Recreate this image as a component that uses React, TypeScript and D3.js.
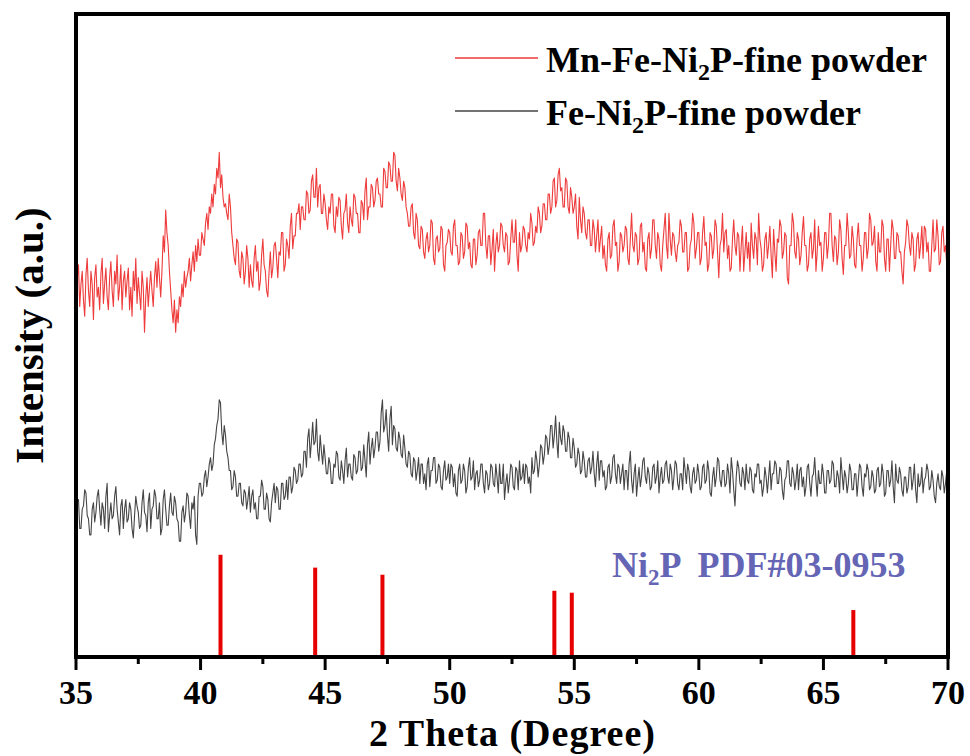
import React from "react";
import * as d3 from "d3";

// 2-theta grid: 35.00 .. 70.00 step 0.05
const thetaStart = 35;
const thetaStep = 0.05;

const mnFeNi2P = [
  560,590,610,545,580,600,555,530,595,620,570,545,600,580,525,590,610,560,575,540,
  595,620,550,580,605,560,540,590,615,570,545,600,580,625,555,575,610,540,585,600,
  560,585,605,540,575,530,600,570,620,550,590,565,540,600,575,505,560,590,545,575,
  600,570,545,590,615,575,620,590,560,600,655,630,695,660,640,600,570,540,520,555,
  505,540,520,560,545,580,560,600,575,590,600,620,585,610,630,600,640,615,650,625,
  625,660,650,640,675,690,665,700,690,720,700,735,720,760,745,785,730,750,715,700,
  705,690,680,720,700,660,640,620,610,650,645,600,590,630,620,580,600,640,620,575,
  610,585,575,620,640,600,615,570,585,625,650,610,600,570,560,600,630,590,605,640,
  645,620,590,630,625,660,660,600,610,650,640,620,670,690,635,655,655,690,690,705,
  665,700,700,680,680,725,720,690,695,740,750,715,715,760,700,730,735,690,690,720,
  705,680,665,700,690,720,720,670,660,700,685,715,710,670,650,690,695,720,675,660,
  700,680,670,720,715,690,690,660,660,710,705,680,725,745,680,700,700,735,730,700,
  710,740,745,720,720,700,700,760,755,730,730,770,765,740,740,785,780,740,725,760,
  745,720,710,740,730,700,690,670,670,700,705,660,650,690,680,640,635,670,665,630,
  620,650,660,630,640,680,675,620,610,650,655,630,635,670,665,610,600,640,645,665,
  660,630,625,670,680,640,640,610,615,660,655,620,630,675,670,635,645,610,605,650,
  650,610,625,660,665,640,640,690,690,640,620,655,655,610,635,665,600,640,660,630,
  640,675,670,640,630,660,655,610,615,650,680,645,645,680,625,600,660,630,640,670,
  665,640,630,660,650,690,675,640,645,670,660,700,690,660,670,705,705,680,680,720,
  720,690,700,740,745,700,710,750,760,725,730,700,700,745,740,700,690,730,715,690,
  700,720,670,650,715,680,660,700,690,660,650,680,680,640,640,680,665,630,655,680,
  630,650,670,620,640,610,600,650,660,620,625,670,680,640,645,600,615,660,655,630,
  640,670,665,620,610,650,690,640,630,660,655,610,620,670,675,630,645,605,600,650,
  660,620,635,680,680,640,620,660,650,610,600,640,665,690,640,620,690,650,625,660,
  655,630,615,640,645,680,670,630,630,660,660,600,605,640,650,690,675,620,635,660,
  660,610,620,660,685,640,645,600,610,660,655,620,635,680,670,630,590,640,650,690,
  630,660,665,620,640,600,605,650,680,640,625,660,655,600,640,670,600,630,660,620,
  645,600,675,640,620,660,650,610,690,650,635,600,610,650,660,620,640,670,625,590,
  665,630,600,650,645,680,670,620,630,660,655,590,580,640,640,690,675,630,620,660,
  650,610,625,660,685,640,640,600,610,650,660,620,635,680,600,630,670,640,645,600,
  620,660,660,620,640,690,690,640,615,655,650,610,630,680,665,620,595,640,640,690,
  660,620,625,670,650,610,605,650,675,640,640,600,620,660,660,620,635,690,680,640,
  645,670,615,600,660,630,630,680,670,620,600,650,650,600,640,680,665,620,620,660,
  655,630,630,600,580,630,645,680,670,640,625,660,650,600,610,650,660,620,640,670,
  620,670,665,630,645,600,600,640,680,630,635,680,655,610,615,660,670,630,640,610,
  630,
];

const feNi2P = [
  210,240,245,200,200,230,235,260,255,220,215,190,190,230,240,210,225,250,260,230,
  205,240,230,200,250,270,195,220,240,215,220,250,265,230,210,190,235,245,200,230,
  245,210,215,240,230,200,185,220,250,235,225,200,205,240,260,225,220,195,240,255,
  200,230,235,260,250,215,215,240,190,200,245,260,230,205,205,235,255,225,220,250,
  240,215,210,180,180,225,235,210,225,255,250,220,200,240,230,250,190,175,250,270,
  270,250,255,280,290,265,280,300,310,290,300,330,340,360,370,400,395,350,330,360,
  345,320,310,290,290,260,265,290,280,250,250,270,270,240,235,260,255,230,245,265,
  225,250,260,230,240,215,215,250,250,275,265,230,230,255,245,215,210,240,255,270,
  240,265,260,230,230,270,270,245,250,275,245,280,280,255,265,295,290,270,275,300,
  300,280,285,320,320,295,340,355,310,335,365,330,335,370,320,305,345,320,300,330,
  310,285,285,310,300,270,270,300,295,320,315,280,275,305,290,270,305,325,280,300,
  300,280,275,315,310,285,290,320,320,290,295,330,305,280,330,350,300,325,340,310,
  325,350,350,320,335,380,400,350,360,385,345,320,370,390,330,360,355,325,320,350,
  340,315,310,345,325,300,295,320,315,285,280,310,305,275,290,310,270,300,300,270,
  285,260,300,310,265,290,290,310,310,270,275,300,295,265,260,290,305,275,280,300,
  270,300,295,265,285,255,250,290,300,270,275,300,290,255,265,295,310,275,280,305,
  260,285,290,265,275,300,300,270,255,290,285,260,270,300,295,270,265,300,280,255,
  300,270,270,300,245,270,285,255,275,300,295,265,260,295,290,260,305,275,280,300,
  270,300,295,270,280,255,310,285,290,320,305,280,300,330,325,300,315,345,340,315,
  330,360,360,325,345,375,335,310,365,340,330,360,350,320,320,350,340,310,310,340,
  325,295,300,325,315,285,290,320,305,280,280,305,310,285,295,320,285,265,300,320,
  275,305,305,280,290,260,265,295,300,270,280,310,315,285,270,300,295,270,285,300,
  260,290,290,260,300,320,275,255,285,300,250,275,295,265,280,305,310,280,270,295,
  285,260,265,295,300,270,280,305,255,280,295,270,275,300,305,280,270,300,290,260,
  280,305,300,270,260,285,285,260,310,290,270,300,290,265,255,285,295,270,275,300,
  285,260,265,295,300,270,275,305,290,255,250,280,295,265,280,310,305,275,265,290,
  290,265,270,300,285,255,310,290,260,235,280,305,295,270,265,295,285,260,300,275,
  270,295,290,260,255,285,280,300,300,270,275,250,265,295,280,255,280,305,260,285,
  285,305,300,270,270,295,290,260,245,275,280,305,305,270,265,295,285,260,275,300,
  260,290,295,265,280,250,265,295,300,270,250,280,285,310,275,250,290,270,270,300,
  285,255,255,290,290,270,275,305,300,265,265,290,280,255,310,285,260,290,280,255,
  270,300,290,260,260,285,285,250,275,300,295,265,250,285,280,300,290,260,265,290,
  280,255,260,290,295,265,270,300,285,250,255,290,290,265,275,305,265,240,300,275,
  270,295,285,260,250,280,280,255,265,295,295,260,275,300,260,240,285,265,270,295,
  255,275,280,300,290,260,265,290,275,250,240,270,285,265,260,290,280,255,270,290,
  270,
];

// Ni2P PDF#03-0953 reference peaks
const refPositions = [40.8, 44.6, 47.3, 54.2, 54.9, 66.2];
const refIntensities = [159, 139, 128, 103, 100, 73];

const xMajorTicks = [35, 40, 45, 50, 55, 60, 65, 70];
const xMinorTicks = [37.5, 42.5, 47.5, 52.5, 57.5, 62.5, 67.5];

const W = 970;
const H = 756;
const M = { left: 76, right: 948, top: 14, bottom: 657 };
const FONT = "'Liberation Serif', 'Times New Roman', serif";

export default function App() {
  const x = d3.scaleLinear().domain([35, 70]).range([M.left, M.right]);
  const y = d3.scaleLinear().domain([0, 1000]).range([M.bottom, M.top]);

  const toPts = (arr: number[]) =>
    arr.map((v, i) => [thetaStart + i * thetaStep, v] as [number, number]);

  const line = d3
    .line<[number, number]>()
    .x((d) => x(d[0]))
    .y((d) => y(d[1]));

  const redColor = "#EE3B3B";
  const greyColor = "#454545";

  return (
    <svg
      width={W}
      height={H}
      style={{ position: "absolute", left: 0, top: 0, background: "#fff" }}
      fontFamily={FONT}
    >
      <rect x={0} y={0} width={W} height={H} fill="#fff" />
      {/* series */}
      <path d={line(toPts(mnFeNi2P)) || ""} fill="none" stroke={redColor} strokeWidth={1.1} strokeLinejoin="round" />
      <path d={line(toPts(feNi2P)) || ""} fill="none" stroke={greyColor} strokeWidth={1.1} strokeLinejoin="round" />

      {/* reference sticks */}
      {refPositions.map((p, i) => (
        <line
          key={p}
          x1={x(p)}
          x2={x(p)}
          y1={y(0)}
          y2={y(refIntensities[i])}
          stroke="#E60000"
          strokeWidth={4}
        />
      ))}

      {/* frame */}
      <rect
        x={M.left}
        y={M.top}
        width={M.right - M.left}
        height={M.bottom - M.top}
        fill="none"
        stroke="#000"
        strokeWidth={4}
      />

      {/* ticks */}
      {xMajorTicks.map((t) => (
        <g key={t}>
          <line x1={x(t)} x2={x(t)} y1={M.bottom} y2={M.bottom + 13} stroke="#000" strokeWidth={3} />
          <text x={x(t)} y={704} textAnchor="middle" fontSize={34} fontWeight="bold">
            {t}
          </text>
        </g>
      ))}
      {xMinorTicks.map((t) => (
        <line key={t} x1={x(t)} x2={x(t)} y1={M.bottom} y2={M.bottom + 7} stroke="#000" strokeWidth={3} />
      ))}

      {/* axis titles */}
      <text
        x={(M.left + M.right) / 2}
        y={746}
        textAnchor="middle"
        fontSize={38}
        fontWeight="bold"
        textLength={286}
        lengthAdjust="spacing"
      >
        2 Theta (Degree)
      </text>
      <text
        transform={`translate(43, ${(M.top + M.bottom) / 2}) rotate(-90)`}
        textAnchor="middle"
        fontSize={41}
        fontWeight="bold"
      >
        Intensity (a.u.)
      </text>

      {/* legend */}
      <line x1={455} x2={538} y1={58} y2={58} stroke={redColor} strokeWidth={1.3} />
      <text x={546} y={72} fontSize={36} fontWeight="bold">
        Mn-Fe-Ni<tspan fontSize={24} dy={8}>2</tspan>
        <tspan dy={-8}>P-fine powder</tspan>
      </text>
      <line x1={455} x2={538} y1={111} y2={111} stroke={greyColor} strokeWidth={1.3} />
      <text x={546} y={125} fontSize={36} fontWeight="bold">
        Fe-Ni<tspan fontSize={24} dy={8}>2</tspan>
        <tspan dy={-8}>P-fine powder</tspan>
      </text>

      {/* reference label */}
      <text x={612} y={577} fontSize={36} fontWeight="bold" fill="#6565B5" style={{ whiteSpace: "pre" }}>
        Ni<tspan fontSize={23} dy={8}>2</tspan>
        <tspan dy={-8}>{"P  PDF#03-0953"}</tspan>
      </text>
    </svg>
  );
}
